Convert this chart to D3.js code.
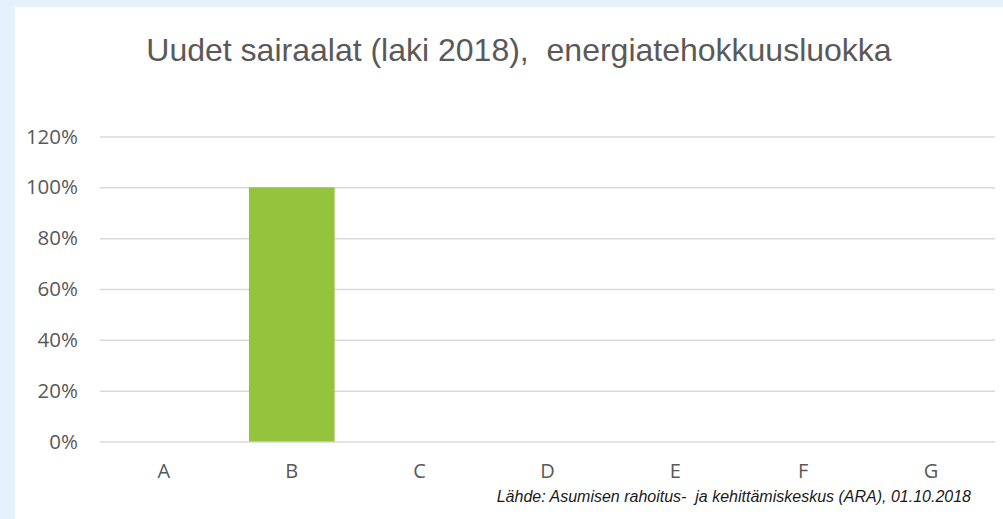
<!DOCTYPE html>
<html>
<head>
<meta charset="utf-8">
<script src="https://cdn.jsdelivr.net/npm/d3@7"></script>
<style>
  body { margin: 0; background: #e6f2fb; }
  svg { display: block; }
  text { white-space: pre; }
</style>
</head>
<body>
<div class="chart"></div>
<script>
// chart data
var categories = ["A", "B", "C", "D", "E", "F", "G"];
var shares = [0, 1, 0, 0, 0, 0, 0];
var yTicks = [0, 0.2, 0.4, 0.6, 0.8, 1.0, 1.2];
var titleText = "Uudet sairaalat (laki 2018),  energiatehokkuusluokka";
var sourceText = "Lähde: Asumisen rahoitus-  ja kehittämiskeskus (ARA), 01.10.2018";

var svgWidth = 1003;
var svgHeight = 519;

var margin = { top: 136.5, right: 8, bottom: 77.5, left: 100 };
var width = svgWidth - margin.left - margin.right;
var height = svgHeight - margin.top - margin.bottom;

var svg = d3.select(".chart")
  .append("svg")
  .attr("width", svgWidth)
  .attr("height", svgHeight);

// white panel
svg.append("rect")
  .attr("x", 15)
  .attr("y", 7)
  .attr("width", svgWidth - 15)
  .attr("height", svgHeight - 7)
  .attr("fill", "#ffffff");

var chartGroup = svg.append("g")
  .attr("transform", `translate(${margin.left}, ${margin.top})`);

var xBandScale = d3.scaleBand()
  .domain(categories)
  .range([0, width])
  .paddingInner(0.33)
  .paddingOuter(0.165);

var yLinearScale = d3.scaleLinear()
  .domain([0, 1.2])
  .range([height, 0]);

// gridlines + y labels
var leftAxis = d3.axisLeft(yLinearScale)
  .tickValues(yTicks)
  .tickFormat(d3.format(".0%"))
  .tickSize(-width)
  .tickPadding(22);

var yAxis = chartGroup.append("g").call(leftAxis);
yAxis.select(".domain").remove();
yAxis.selectAll(".tick line")
  .attr("stroke", "#d9d9d9")
  .attr("stroke-width", 1.5);
yAxis.selectAll(".tick text")
  .attr("fill", "#595959")
  .style("font-family", "'Open Sans', sans-serif")
  .style("font-size", "20.5px");

// x labels
var bottomAxis = d3.axisBottom(xBandScale)
  .tickSize(0)
  .tickPadding(22);

var xAxis = chartGroup.append("g")
  .attr("transform", `translate(0, ${height})`)
  .call(bottomAxis);
xAxis.select(".domain").remove();
xAxis.selectAll(".tick text")
  .attr("fill", "#595959")
  .style("font-family", "'Open Sans', sans-serif")
  .style("font-size", "20px");

// bars
chartGroup.selectAll(".bar")
  .data(categories)
  .enter()
  .append("rect")
  .attr("class", "bar")
  .attr("x", (d, i) => xBandScale(d))
  .attr("y", (d, i) => yLinearScale(shares[i]))
  .attr("width", xBandScale.bandwidth())
  .attr("height", (d, i) => height - yLinearScale(shares[i]))
  .attr("fill", "#94c33d");

// title
svg.append("text")
  .attr("x", 519)
  .attr("y", 61)
  .attr("text-anchor", "middle")
  .attr("fill", "#595959")
  .style("font-family", "'Liberation Sans', Arial, sans-serif")
  .style("font-size", "32px")
  .text(titleText);

// source
svg.append("text")
  .attr("x", 971)
  .attr("y", 502)
  .attr("text-anchor", "end")
  .attr("fill", "#1a1a1a")
  .style("font-family", "'Liberation Sans', Arial, sans-serif")
  .style("font-style", "italic")
  .style("font-size", "16px")
  .text(sourceText);
</script>
</body>
</html>
